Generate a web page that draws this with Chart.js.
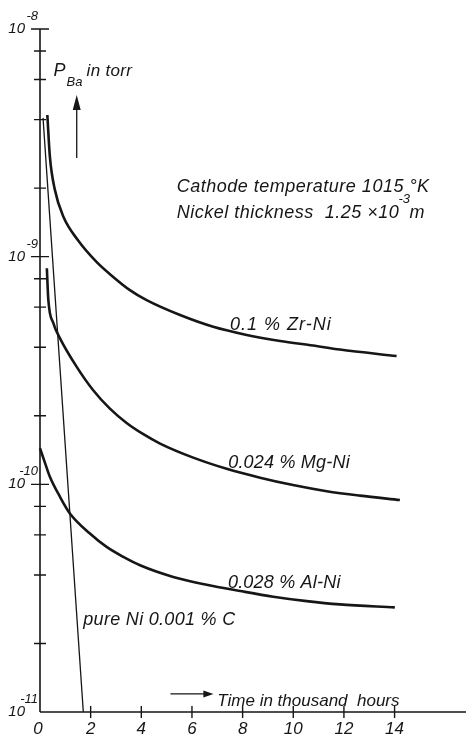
<!DOCTYPE html>
<html><head><meta charset="utf-8">
<script src="https://cdn.jsdelivr.net/npm/chart.js@4.4.1/dist/chart.umd.min.js"></script>
<style>html,body{margin:0;padding:0;background:#fff}canvas{display:block}</style>
</head><body>
<canvas id="c" width="466" height="738"></canvas>
<script>
// ---- data (time in thousand hours, P_Ba in torr) ----
const zrNiTime = [0.29, 0.39, 0.59, 0.92, 1.50, 2.24, 2.89, 3.55, 4.21, 5.53, 6.84, 8.16, 9.48, 10.78, 11.84, 14.08];
const zrNiP    = [4.19e-9, 2.75e-9, 1.96e-9, 1.50e-9, 1.18e-9, 9.46e-10, 8.15e-10, 7.13e-10, 6.44e-10, 5.54e-10, 4.92e-10, 4.53e-10, 4.26e-10, 4.07e-10, 3.91e-10, 3.66e-10];
const mgNiTime = [0.27, 0.33, 0.53, 0.79, 1.45, 2.10, 2.76, 3.42, 4.08, 4.74, 6.05, 7.37, 8.69, 9.99, 11.32, 12.63, 14.21];
const mgNiP    = [8.89e-10, 6.44e-10, 5.09e-10, 4.38e-10, 3.28e-10, 2.59e-10, 2.15e-10, 1.86e-10, 1.66e-10, 1.51e-10, 1.31e-10, 1.17e-10, 1.07e-10, 9.93e-11, 9.33e-11, 8.92e-11, 8.53e-11];
const alNiTime = [0.00, 0.20, 0.39, 0.79, 1.18, 1.97, 2.63, 3.29, 3.95, 5.26, 6.58, 7.90, 9.21, 10.53, 11.84, 14.01];
const alNiP    = [1.44e-10, 1.24e-10, 1.08e-10, 8.81e-11, 7.45e-11, 6.08e-11, 5.31e-11, 4.80e-11, 4.41e-11, 3.92e-11, 3.62e-11, 3.40e-11, 3.21e-11, 3.07e-11, 2.97e-11, 2.88e-11];
const pureNiTime = [0.12, 1.71];
const pureNiP    = [4.07e-9, 1e-11];

const xTickValues = [2, 4, 6, 8, 10, 12, 14];
const xTickLabels = ['0', '2', '4', '6', '8', '10', '12', '14'];
const xLabelValues = [0, 2, 4, 6, 8, 10, 12, 14];
const yMajorValues = [1e-8, 1e-9, 1e-10, 1e-11];
const yMajorExponents = ['-8', '-9', '-10', '-11'];
const yMinorValues = [8e-9, 6e-9, 4e-9, 2e-9, 8e-10, 6e-10, 4e-10, 2e-10, 8e-11, 6e-11, 4e-11, 2e-11];

const seriesNames = ['0.1 % Zr-Ni', '0.024 % Mg-Ni', '0.028 % Al-Ni', 'pure Ni 0.001 % C'];

const pts = (xs, ys) => xs.map((x, i) => ({x, y: ys[i]}));
const INK = '#161616';
const FONT = '"Liberation Sans", Arial, sans-serif';

function txt(ctx, s, x, y, size, spacing) {
  ctx.font = 'italic ' + size + 'px ' + FONT;
  ctx.letterSpacing = (spacing || 0) + 'px';
  ctx.fillText(s, x, y);
  const w = ctx.measureText(s).width;
  ctx.letterSpacing = '0px';
  return w;
}

const decor = {
  id: 'decor',
  afterDraw(chart) {
    const ctx = chart.ctx, xs = chart.scales.x, ys = chart.scales.y;
    const X = v => xs.getPixelForValue(v), Y = v => ys.getPixelForValue(v);
    const x0 = X(0), y0 = Y(1e-11);
    ctx.save();
    ctx.strokeStyle = INK; ctx.fillStyle = INK; ctx.lineCap = 'butt';
    // axes
    ctx.lineWidth = 1.6;
    ctx.beginPath();
    ctx.moveTo(x0, Y(1e-8)); ctx.lineTo(x0, y0);
    ctx.moveTo(x0, y0); ctx.lineTo(X(xs.max), y0);
    ctx.stroke();
    // ticks
    ctx.lineWidth = 1.4;
    ctx.beginPath();
    yMajorValues.slice(0, 3).forEach(v => { const y = Y(v); ctx.moveTo(x0 - 9, y); ctx.lineTo(x0 + 9, y); });
    yMinorValues.forEach(v => { const y = Y(v); ctx.moveTo(x0 - 6, y); ctx.lineTo(x0 + 6, y); });
    xTickValues.forEach(v => { const x = X(v); ctx.moveTo(x, y0 - 6); ctx.lineTo(x, y0 + 6); });
    ctx.stroke();
    // y labels 10^n
    yMajorValues.forEach((v, i) => {
      const y = Y(v);
      ctx.textAlign = 'right'; ctx.textBaseline = 'alphabetic';
      txt(ctx, '10', x0 - 15, y + 4, 15);
      txt(ctx, yMajorExponents[i], x0 - 2, y - 9, 13);
    });
    // x labels
    ctx.textAlign = 'center';
    xLabelValues.forEach((v, i) => txt(ctx, xTickLabels[i], X(v) - (v === 0 ? 2 : 0), y0 + 22, 17));
    ctx.textAlign = 'left';
    // y axis title
    txt(ctx, 'P', X(0.53), Y(6.22e-9), 18);
    txt(ctx, 'Ba', X(1.05), Y(5.62e-9), 13);
    txt(ctx, 'in torr', X(1.84), Y(6.22e-9), 17, 0.3);
    // up arrow
    const ax = X(1.45);
    ctx.lineWidth = 1.3;
    ctx.beginPath(); ctx.moveTo(ax, Y(2.71e-9)); ctx.lineTo(ax, Y(4.6e-9)); ctx.stroke();
    ctx.beginPath(); ctx.moveTo(ax, Y(5.13e-9)); ctx.lineTo(ax - 4, Y(4.41e-9)); ctx.lineTo(ax + 4, Y(4.41e-9)); ctx.closePath(); ctx.fill();
    // time arrow
    const ty = Y(1.2e-11);
    ctx.beginPath(); ctx.moveTo(X(5.15), ty); ctx.lineTo(X(6.7), ty); ctx.stroke();
    ctx.beginPath(); ctx.moveTo(X(6.85), ty); ctx.lineTo(X(6.45), ty - 3.5); ctx.lineTo(X(6.45), ty + 3.5); ctx.closePath(); ctx.fill();
    txt(ctx, 'Time in thousand  hours', X(7.0), Y(1.06e-11), 17, 0);
    // condition notes
    txt(ctx, 'Cathode temperature 1015 °K', X(5.4), Y(1.93e-9), 18, 0.5);
    let wx = X(5.4), by = Y(1.474e-9);
    wx += txt(ctx, 'Nickel thickness  1.25 ×10', wx, by, 18, 0.5);
    txt(ctx, '-3', wx - 1, by - 15, 13);
    txt(ctx, 'm', wx + 10, by, 18);
    // series labels
    txt(ctx, seriesNames[0], X(7.5), Y(4.75e-10), 18, 1);
    txt(ctx, seriesNames[1], X(7.43), Y(1.18e-10), 18, 0.2);
    txt(ctx, seriesNames[2], X(7.42), Y(3.5e-11), 18, 0.2);
    txt(ctx, seriesNames[3], X(1.71), Y(2.4e-11), 18, 0.3);
    ctx.restore();
  }
};

const lineDs = (label, data, w) => ({
  label, data, borderColor: INK, borderWidth: w, pointRadius: 0, fill: false,
  cubicInterpolationMode: 'monotone', borderCapStyle: 'butt', clip: false
});

new Chart(document.getElementById('c'), {
  type: 'line',
  data: {
    datasets: [
      lineDs(seriesNames[0], pts(zrNiTime, zrNiP), 2.6),
      lineDs(seriesNames[1], pts(mgNiTime, mgNiP), 2.6),
      lineDs(seriesNames[2], pts(alNiTime, alNiP), 2.6),
      lineDs(seriesNames[3], pts(pureNiTime, pureNiP), 1.3)
    ]
  },
  options: {
    responsive: false, devicePixelRatio: 1, animation: false,
    layout: { padding: { left: 40, top: 29, right: 0, bottom: 26 } },
    plugins: { legend: { display: false }, tooltip: { enabled: false } },
    scales: {
      x: { type: 'linear', display: false, min: 0, max: 16.82 },
      y: { type: 'logarithmic', display: false, min: 1e-11, max: 1e-8 }
    }
  },
  plugins: [decor]
});
</script>
</body></html>
